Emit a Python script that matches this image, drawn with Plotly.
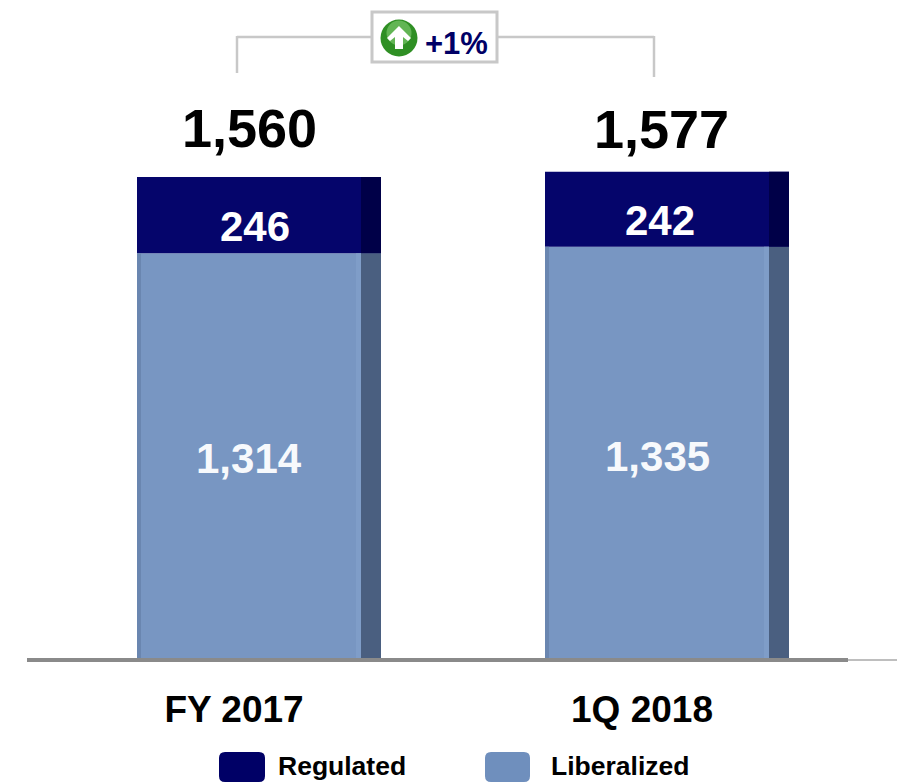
import plotly.graph_objects as go

categories = ["FY 2017", "1Q 2018"]
liberalized = [1314, 1335]
regulated = [246, 242]
totals = [1560, 1577]
series_names = ["Regulated", "Liberalized"]
change_label = "+1%"

W, H = 904, 782
BASE_PX = 660
NAVY, NAVY_D = "#05056b", "#000048"
BLUE, BLUE_D = "#7896c2", "#4a5f80"
FONT = "Liberation Sans, Arial, sans-serif"


def px(x):
    return x / W


def py(y):
    return (BASE_PX - y) / BASE_PX


def line(x0, y0, x1, y1, color="#c8c8c8", width=2.5):
    return dict(type="line", xref="paper", yref="paper", x0=px(x0), y0=py(y0), x1=px(x1), y1=py(y1),
                line=dict(color=color, width=width), layer="above")


def poly(points, fill):
    d = "M " + " L ".join(f"{px(a):.5f},{py(b):.5f}" for a, b in points) + " Z"
    return dict(type="path", xref="paper", yref="paper", path=d, fillcolor=fill, line_width=0, layer="above")


def rounded(x0, y0, x1, y1, r, fill):
    X0, X1, Y0, Y1 = px(x0), px(x1), py(y0), py(y1)
    rx, ry = r / W, r / BASE_PX
    d = (f"M {X0+rx},{Y0} L {X1-rx},{Y0} Q {X1},{Y0} {X1},{Y0-ry} L {X1},{Y1+ry} Q {X1},{Y1} {X1-rx},{Y1} "
         f"L {X0+rx},{Y1} Q {X0},{Y1} {X0},{Y1+ry} L {X0},{Y0-ry} Q {X0},{Y0} {X0+rx},{Y0} Z")
    return dict(type="path", xref="paper", yref="paper", path=d, fillcolor=fill, line_width=0, layer="above")


def circle(cx, cy, r, fill):
    return dict(type="circle", xref="paper", yref="paper", x0=px(cx - r), x1=px(cx + r),
                y0=py(cy + r), y1=py(cy - r), fillcolor=fill, line_width=0, layer="above")


UNIT = 408  # pixels between the two bar centres
BAR = 244 / UNIT
fig = go.Figure()


def bar(y, base, color, name, offset=None, width=BAR):
    fig.add_bar(x=categories, y=y, base=base, name=name, width=width, offset=offset,
                marker=dict(color=color, line_width=0), showlegend=False, hoverinfo="name+y")


zero = [0, 0]
left = -BAR / 2
bar(liberalized, zero, BLUE, series_names[1], offset=left)
bar(regulated, liberalized, NAVY, series_names[0], offset=left)
# shaded faces of the bars
bar(liberalized, zero, BLUE_D, series_names[1], offset=102 / UNIT, width=20 / UNIT)
bar(regulated, liberalized, NAVY_D, series_names[0], offset=102 / UNIT, width=20 / UNIT)
bar(liberalized, zero, "#6a86b0", series_names[1], offset=left, width=4 / UNIT)
bar(liberalized, zero, "#7f9dc8", series_names[1], offset=97 / UNIT, width=5 / UNIT)

anns = []


def ann(x, y, text, size, color, xshift=0, yshift=0, yanchor="middle"):
    anns.append(dict(x=x, y=y, xref="x", yref="y", text=f"<b>{text}</b>", showarrow=False,
                     xshift=xshift, yshift=yshift, yanchor=yanchor,
                     font=dict(family=FONT, size=size, color=color)))


top_shift = [(-10, 17), (-6, 11)]
reg_shift = [(-4, -11), (-7, -11)]
lib_shift = [(-10, -2), (-10, -3)]
for i, c in enumerate(categories):
    ann(c, totals[i], f"{totals[i]:,}", 54, "#000000", top_shift[i][0], top_shift[i][1], "bottom")
    ann(c, liberalized[i] + regulated[i] / 2, f"{regulated[i]:,}", 42, "#ffffff", *reg_shift[i])
    ann(c, liberalized[i] / 2, f"{liberalized[i]:,}", 42, "#f7f9fc", *lib_shift[i])

for text, x, y, size, color in [
    (change_label, 456, 43, 31, "#000066"),
    (series_names[0], 342, 766, 26.5, "#000000"),
    (series_names[1], 620, 766, 26.5, "#000000"),
]:
    anns.append(dict(x=px(x), y=py(y), xref="paper", yref="paper", text=f"<b>{text}</b>", showarrow=False,
                     xanchor="center", yanchor="middle", font=dict(family=FONT, size=size, color=color)))

shapes = [
    line(27, 660, 848, 660, "#8a8a8a", 4),
    line(848, 660, 897, 660, "#a8a8a8", 1.5),
    line(237, 37, 372, 37),
    line(237, 36, 237, 73),
    line(497, 37, 654, 37),
    line(654, 36, 654, 77),
    dict(type="rect", xref="paper", yref="paper", x0=px(372), x1=px(497), y0=py(62), y1=py(12),
         fillcolor="#ffffff", line=dict(color="#c8c8c8", width=3), layer="above"),
    circle(399, 38, 18.5, "#2f8f24"),
    circle(399, 33, 12.5, "#62b554"),
    poly([(399, 26), (411, 38), (408, 41), (403, 37), (403, 49), (395, 49), (395, 37), (390, 41), (387, 38)], "#ffffff"),
    rounded(219, 752, 265, 782, 6, "#000066"),
    rounded(485, 752, 530, 782, 6, "#6f8fbd"),
]

fig.update_layout(
    width=W, height=H, autosize=False, barmode="overlay",
    margin=dict(l=0, r=0, t=0, b=H - BASE_PX, pad=0),
    paper_bgcolor="#ffffff", plot_bgcolor="#ffffff",
    showlegend=False, shapes=shapes, annotations=anns,
    xaxis=dict(type="category", categoryorder="array", categoryarray=categories,
               range=[-259 / UNIT, (904 - 259) / UNIT], showgrid=False, zeroline=False, showline=False,
               ticks="", ticklabelstandoff=24, ticklabelshift=-25,
               tickfont=dict(family=FONT, size=37, color="#000000", weight="bold")),
    yaxis=dict(range=[0, BASE_PX / (483 / 1560)], visible=False, showgrid=False, zeroline=False),
)

fig.write_html("out.html", post_script="document.body.style.margin='0';document.body.style.overflow='hidden';",
               config=dict(displayModeBar=False))
